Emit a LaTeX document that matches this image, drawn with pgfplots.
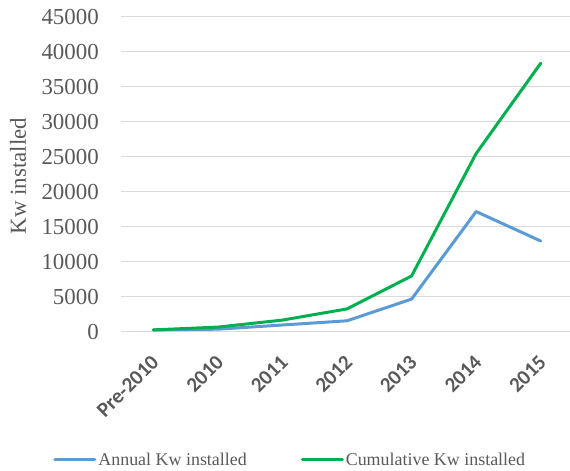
\documentclass[border=0pt]{standalone}
\usepackage{fontspec}
\setmainfont{Liberation Serif}
\newfontfamily\calib{Carlito}
\usepackage{pgfplots}
\pgfplotsset{compat=1.18}
\definecolor{annual}{HTML}{5B9BD5}
\definecolor{cumul}{HTML}{00B050}
\definecolor{txt}{HTML}{595959}
\definecolor{gridc}{HTML}{D9D9D9}

\begin{document}
\begin{tikzpicture}[x=1bp,y=1bp]
\path[use as bounding box] (0,0) rectangle (570,471);
\begin{axis}[
    at={(121bp,139bp)}, anchor=south west,
    scale only axis, width=452bp, height=315bp,
    xmin=-0.5, xmax=6.5, ymin=0, ymax=45000,
    xtick={0,...,6},
    xticklabels={Pre-2010,2010,2011,2012,2013,2014,2015},
    ytick={0,5000,...,45000},
    scaled y ticks=false,
    axis line style={draw=none},
    major tick length=0pt,
    ymajorgrids, grid style={gridc, line width=1bp},
    /pgf/number format/assume math mode=true,
    yticklabel style={/pgf/number format/1000 sep={}, font=\fontsize{23}{23}\selectfont,
        text=txt, inner sep=0pt, anchor=east, xshift=-22bp},
    xticklabel style={font=\calib\bfseries\fontsize{21}{21}\selectfont, text=txt,
        inner sep=0pt, yshift=-27bp, xshift=2bp, rotate=45, anchor=east},
    ylabel={Kw installed},
    ylabel style={at={(axis description cs:-0.228,0.495)}, anchor=center,
        font=\fontsize{23}{23}\selectfont, text=txt},
    legend columns=2,
    legend style={at={(axis description cs:-0.150,-0.406)}, anchor=west,
        draw=none, fill=none, inner sep=0pt, text=txt,
        font=\fontsize{18}{18}\selectfont,
        /tikz/every even column/.append style={column sep=52bp}},
    legend image code/.code={\draw[#1, line width=3bp] (0bp,0bp) -- (40bp,0bp);},
    clip=false,
]
\addplot[annual, line width=3bp, line join=round, line cap=round] coordinates {
    (0,300) (1,400) (2,1000) (3,1600) (4,4700) (5,17200) (6,13000)
};
\addlegendentry{Annual Kw installed}
\addplot[cumul, line width=3bp, line join=round, line cap=round] coordinates {
    (0,300) (1,700) (2,1700) (3,3300) (4,8000) (5,25500) (6,38400)
};
\addlegendentry{Cumulative Kw installed}
\end{axis}
\end{tikzpicture}
\end{document}
